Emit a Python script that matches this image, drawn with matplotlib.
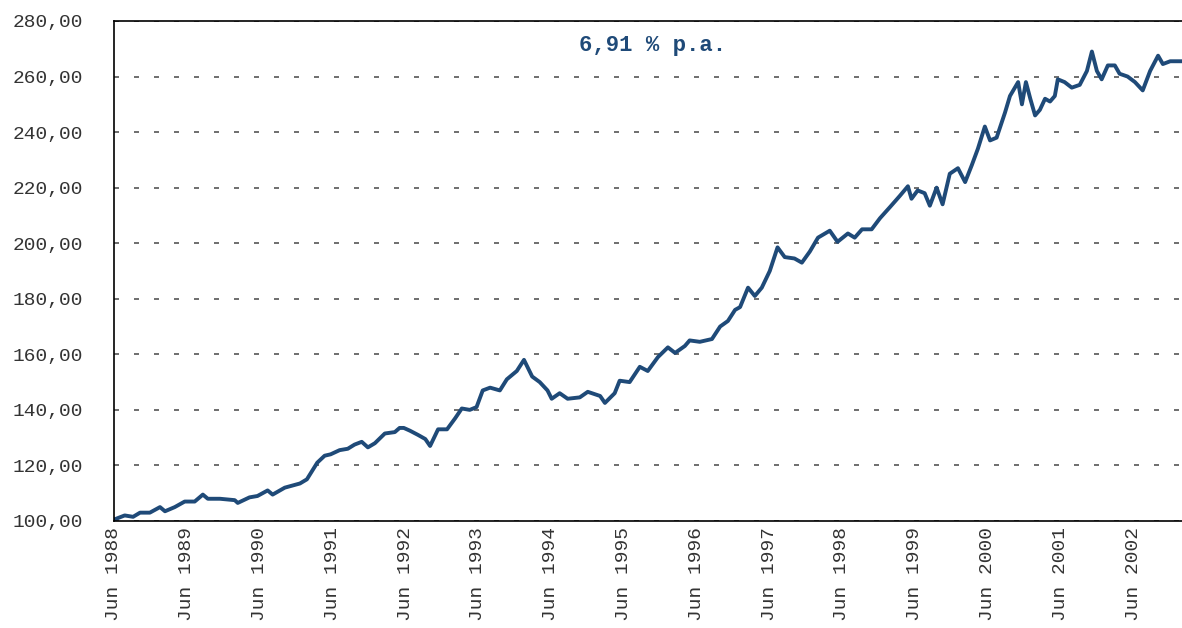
import matplotlib
matplotlib.use('Agg')
import matplotlib.pyplot as plt
import matplotlib.dates as mdates
from matplotlib.ticker import FuncFormatter, MultipleLocator
import pandas as pd

# index level (start = 100)
dates = ['1988-06-01', '1988-07-25', '1988-09-05', '1988-10-10', '1988-11-28',
         '1989-01-18', '1989-02-12', '1989-04-02', '1989-05-22', '1989-07-11',
         '1989-08-21', '1989-09-15', '1989-11-15', '1990-01-28', '1990-02-12',
         '1990-04-12', '1990-05-22', '1990-07-12', '1990-08-06', '1990-10-06',
         '1990-12-21', '1991-01-25', '1991-03-18', '1991-04-24', '1991-05-24',
         '1991-07-08', '1991-08-18', '1991-09-21', '1991-10-27', '1991-11-27',
         '1992-01-01', '1992-02-20', '1992-04-10', '1992-05-04', '1992-05-25',
         '1992-06-25', '1992-08-04', '1992-09-10', '1992-10-04', '1992-11-13',
         '1992-12-28', '1993-02-07', '1993-03-12', '1993-04-21', '1993-05-25',
         '1993-06-25', '1993-08-01', '1993-09-19', '1993-10-24', '1993-12-13',
         '1994-01-18', '1994-02-28', '1994-04-07', '1994-05-16', '1994-06-06',
         '1994-07-16', '1994-08-25', '1994-10-25', '1994-12-04', '1995-02-04',
         '1995-02-28', '1995-04-18', '1995-05-13', '1995-07-02', '1995-08-22',
         '1995-10-01', '1995-11-21', '1996-01-10', '1996-02-15', '1996-04-04',
         '1996-04-28', '1996-06-18', '1996-08-18', '1996-09-28', '1996-11-06',
         '1996-12-12', '1997-01-06', '1997-02-15', '1997-03-21', '1997-04-25',
         '1997-06-04', '1997-07-13', '1997-08-18', '1997-10-06', '1997-11-12',
         '1997-12-22', '1998-02-01', '1998-04-01', '1998-05-10', '1998-07-01',
         '1998-08-04', '1998-09-10', '1998-10-28', '1998-12-09', '1999-01-28',
         '1999-03-18', '1999-04-28', '1999-05-16', '1999-06-16', '1999-07-21',
         '1999-08-16', '1999-09-19', '1999-10-19', '1999-11-24', '2000-01-04',
         '2000-02-09', '2000-03-13', '2000-04-13', '2000-05-18', '2000-06-13',
         '2000-07-16', '2000-08-27', '2000-09-21', '2000-11-01', '2000-11-20',
         '2000-12-10', '2001-01-01', '2001-01-25', '2001-02-18', '2001-03-16',
         '2001-04-10', '2001-05-04', '2001-05-19', '2001-06-22', '2001-07-28',
         '2001-09-06', '2001-10-12', '2001-11-06', '2001-12-01', '2001-12-25',
         '2002-01-25', '2002-03-01', '2002-03-25', '2002-05-04', '2002-06-10',
         '2002-07-19', '2002-08-25', '2002-10-04', '2002-10-28', '2002-12-04',
         '2003-02-01']

values = [100.5, 102.0, 101.5, 103.0, 103.0,
          105.0, 103.5, 105.0, 107.0, 107.0,
          109.5, 108.0, 108.0, 107.5, 106.5,
          108.5, 109.0, 111.0, 109.5, 112.0,
          113.5, 115.0, 121.0, 123.5, 124.0,
          125.5, 126.0, 127.5, 128.5, 126.5,
          128.0, 131.5, 132.0, 133.5, 133.5,
          132.5, 131.0, 129.5, 127.0, 133.0,
          133.0, 137.0, 140.5, 140.0, 141.0,
          147.0, 148.0, 147.0, 151.0, 154.0,
          158.0, 152.0, 150.0, 147.0, 144.0,
          146.0, 144.0, 144.5, 146.5, 145.0,
          142.5, 146.0, 150.5, 150.0, 155.5,
          154.0, 159.0, 162.5, 160.5, 163.0,
          165.0, 164.5, 165.5, 170.0, 172.0,
          176.0, 177.0, 184.0, 181.0, 184.0,
          190.0, 198.5, 195.0, 194.5, 193.0,
          197.0, 202.0, 204.5, 200.5, 203.5,
          202.0, 205.0, 205.0, 209.0, 213.0,
          217.0, 220.5, 216.0, 219.0, 218.0,
          213.5, 220.0, 214.0, 225.0, 227.0,
          222.0, 228.0, 234.0, 242.0, 237.0,
          238.0, 247.0, 253.0, 258.0, 250.0,
          258.0, 252.0, 246.0, 248.0, 252.0,
          251.0, 253.0, 259.0, 258.0, 256.0,
          257.0, 262.0, 269.0, 262.0, 259.0,
          264.0, 264.0, 261.0, 260.0, 258.0,
          255.0, 262.0, 267.5, 264.5, 265.5,
          265.5]

annual_return = '6,91 % p.a.'
line_color = '#1f4a78'

plt.rcParams['font.family'] = ['Liberation Mono', 'DejaVu Sans Mono']

x = pd.to_datetime(dates)

fig = plt.figure(figsize=(11.82, 6.28), dpi=100)
ax = fig.add_axes([0.0964, 0.1704, 0.9036, 0.7962])

ax.plot(x, values, color=line_color, linewidth=2.8, solid_joinstyle='round')

ax.set_ylim(100, 280)
ax.set_xlim(pd.Timestamp('1988-06-01'), pd.Timestamp('2003-02-01'))
ax.yaxis.set_major_locator(MultipleLocator(20))
ax.yaxis.set_major_formatter(FuncFormatter(lambda v, p: f'{v:.2f}'.replace('.', ',')))

ax.xaxis.set_major_locator(mdates.MonthLocator(bymonth=6))
ax.xaxis.set_major_formatter(mdates.DateFormatter('Jun %Y'))
for lab in ax.get_xticklabels():
    lab.set_rotation(90)

ax.tick_params(axis='both', length=0, labelsize=14, colors='#333333')
ax.tick_params(axis='y', pad=22)
ax.tick_params(axis='x', pad=4)

ax.grid(axis='y', linestyle=(0, (3, 9)), color='#555555', linewidth=1.2)
ax.set_axisbelow(True)
ax.spines['right'].set_visible(False)
for s in ['left', 'bottom', 'top']:
    ax.spines[s].set_linewidth(1.2)
    ax.spines[s].set_color('black')

ax.text(0.504, 0.95, annual_return, transform=ax.transAxes, ha='center', va='center',
        fontsize=16, fontweight='bold', color=line_color)

fig.savefig('out.png', dpi=100)
